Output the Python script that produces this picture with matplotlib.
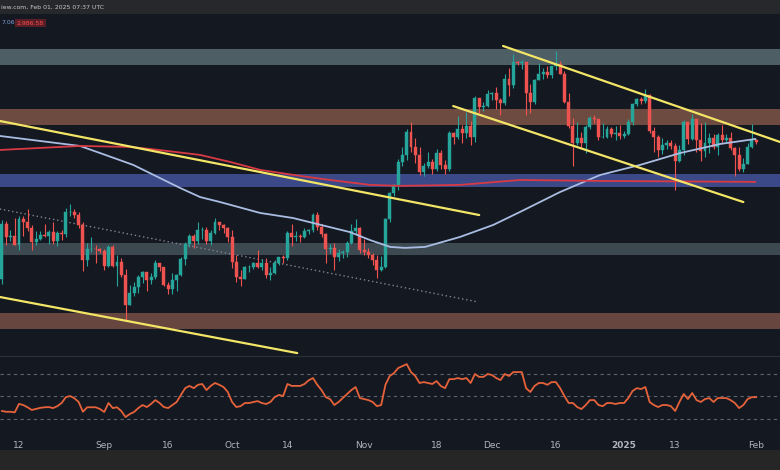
import matplotlib
matplotlib.use('Agg')
import matplotlib.pyplot as plt
from matplotlib.patches import Rectangle
import numpy as np

# ── Data: ETH/USDT daily, day 0 = 2024-08-12, first candle Aug 8 (day -4) ──
first_open = 2345
closes = [2685, 2600, 2610, 2555,
          2720, 2700, 2660, 2570, 2590, 2615, 2610,
          2635, 2575, 2630, 2620, 2765, 2765, 2745,
          2680, 2460, 2530, 2530, 2525, 2515, 2425,
          2540, 2425, 2450, 2370, 2200, 2270, 2300,
          2360, 2390, 2340, 2360, 2440, 2420, 2315,
          2290, 2340, 2370, 2465, 2560, 2610, 2580,
          2645, 2650, 2580, 2630, 2700, 2680, 2660,
          2600, 2450, 2360, 2350, 2415, 2415, 2440,
          2420, 2440, 2370, 2385, 2440, 2475, 2470,
          2630, 2605, 2610, 2605, 2640, 2645, 2745,
          2670, 2625, 2525, 2535, 2475, 2505, 2510,
          2565, 2640, 2660, 2520, 2510, 2490, 2460,
          2400, 2420, 2720, 2900, 2960, 3130, 3180,
          3370, 3245, 3185, 3050, 3100, 3130, 3075,
          3200, 3105, 3075, 3360, 3330, 3395, 3360,
          3420, 3325, 3660, 3580, 3590, 3700, 3710,
          3645, 3615, 3835, 3785, 4000, 3995, 4005,
          3710, 3630, 3830, 3880, 3905, 3870, 3960,
          3985, 3880, 3625, 3420, 3280, 3320, 3280,
          3410, 3490, 3480, 3330, 3330, 3395, 3350,
          3360, 3335, 3355, 3450, 3610, 3655, 3635,
          3685, 3380, 3325, 3220, 3265, 3280, 3255,
          3140, 3225, 3450, 3310, 3475, 3305, 3215,
          3280, 3320, 3245, 3340, 3305, 3320, 3235,
          3180, 3075, 3115, 3250, 3300, 3285]
highs = [2715, 2705, 2645, 2725,
         2740, 2740, 2785, 2680, 2640, 2640, 2690,
         2645, 2700, 2640, 2645, 2795, 2820, 2790,
         2765, 2700, 2565, 2600, 2550, 2535, 2530,
         2550, 2555, 2490, 2470, 2405, 2315, 2330,
         2370, 2395, 2390, 2385, 2460, 2440, 2420,
         2330, 2385, 2375, 2475, 2570, 2620, 2620,
         2700, 2670, 2670, 2650, 2725, 2700, 2685,
         2665, 2650, 2490, 2400, 2425, 2430, 2450,
         2520, 2465, 2470, 2420, 2460, 2480, 2490,
         2640, 2690, 2640, 2625, 2660, 2655, 2760,
         2770, 2685, 2630, 2560, 2565, 2530, 2520,
         2580, 2685, 2720, 2670, 2590, 2535, 2500,
         2490, 2485, 2730, 2910, 2965, 3150, 3250,
         3390, 3450, 3320, 3245, 3120, 3210, 3150,
         3230, 3220, 3145, 3375, 3370, 3500, 3430,
         3535, 3460, 3680, 3660, 3625, 3730, 3720,
         3760, 3660, 3880, 3940, 4080, 4015, 4025,
         4000, 3790, 3840, 3990, 3940, 3960, 3960,
         4110, 4010, 3910, 3710, 3490, 3450, 3370,
         3430, 3500, 3515, 3480, 3440, 3420, 3410,
         3420, 3430, 3375, 3480, 3620, 3660, 3670,
         3745, 3700, 3410, 3340, 3320, 3300, 3300,
         3280, 3260, 3470, 3450, 3520, 3480, 3440,
         3450, 3360, 3350, 3360, 3430, 3350, 3370,
         3250, 3250, 3160, 3280, 3435, 3310]
lows = [2320, 2555, 2580, 2550,
        2520, 2610, 2640, 2520, 2555, 2585, 2605,
        2560, 2560, 2545, 2585, 2605, 2740, 2730,
        2660, 2395, 2425, 2510, 2440, 2500, 2400,
        2420, 2420, 2310, 2360, 2120, 2200, 2250,
        2270, 2325, 2280, 2320, 2345, 2395, 2305,
        2260, 2265, 2280, 2365, 2430, 2540, 2535,
        2560, 2590, 2560, 2555, 2620, 2645, 2630,
        2570, 2410, 2330, 2310, 2345, 2390, 2405,
        2410, 2400, 2355, 2340, 2375, 2430, 2440,
        2460, 2545, 2580, 2570, 2595, 2625, 2635,
        2650, 2600, 2440, 2500, 2400, 2455, 2470,
        2475, 2560, 2620, 2505, 2490, 2470, 2430,
        2355, 2395, 2410, 2700, 2880, 2920, 3100,
        3145, 3210, 3120, 3030, 3020, 3080, 3040,
        3060, 3075, 3040, 3060, 3270, 3310, 3280,
        3320, 3260, 3290, 3530, 3550, 3580, 3640,
        3560, 3510, 3600, 3680, 3750, 3970, 3930,
        3515, 3530, 3610, 3830, 3835, 3850, 3850,
        3925, 3880, 3620, 3400, 3100, 3260, 3240,
        3200, 3390, 3440, 3300, 3320, 3320, 3330,
        3300, 3310, 3320, 3340, 3430, 3590, 3610,
        3620, 3360, 3210, 3170, 3190, 3230, 3230,
        2920, 3130, 3180, 3270, 3300, 3210, 3140,
        3170, 3200, 3230, 3180, 3280, 3290, 3220,
        3020, 3060, 3050, 3110, 3240, 3270]
rsi = [36.7, 36, 36, 35.5,
       43, 42, 40, 37.6, 38.5, 39.5, 40,
       40.2, 39.3, 41, 43.8, 49, 50, 48,
       44.7, 36, 40, 40, 40, 38.5, 35.8,
       43.8, 39.3, 40, 36.7, 31.3, 34, 35.8,
       39.3, 42, 40.2, 43, 46.4, 43.8, 40.2,
       39.3, 42, 44.7, 51, 57, 59, 57,
       60, 60.7, 55.3, 59, 61.6, 60, 58,
       53.6, 44.7, 40.2, 41, 43.8, 43.8, 44.7,
       45.5, 43.8, 42.9, 44.7, 49, 51, 50,
       60.7, 59, 59, 59, 60.7, 64, 66,
       60, 55.3, 49, 47.3, 42, 44.7, 48.2,
       51.8, 55.3, 58, 48.2, 47.3, 46.4, 44.7,
       41, 42, 60, 67.8, 70.4, 74.9, 76.7,
       78.4, 71.3, 67.8, 61.6, 62.4, 61.6, 60.7,
       63.3, 58.9, 57, 65, 65, 66, 65,
       66, 61.6, 69.6, 67, 67, 69.6, 68.7,
       66, 64.2, 69.6, 67.8, 71.3, 71.3, 71.3,
       57, 53.6, 59, 61.6, 61.6, 60, 62.4,
       62.4, 57, 50, 43.8, 43.8, 40.2, 38.4,
       42, 46.4, 46.4, 42, 41, 43.8, 43.8,
       42.9, 43.8, 43.8, 48.2, 54.5, 57, 56.2,
       58, 44.7, 42, 40.2, 42, 42, 41,
       36.7, 44.7, 51.8, 47.3, 52.7, 46.4, 44.7,
       47.3, 48.2, 44.7, 48.2, 48.2, 48.2, 46.4,
       43.8, 39.3, 42, 47.3, 49, 49]

# moving averages (blue = 100 MA, red = 200 MA)
ma100_days = [-4.5, 14.3, 19.0, 26.8, 37.8, 42.5, 47.2, 56.6, 64.3, 77.7, 82.4,
              87.1, 90.6, 95.3, 103.5, 111.3, 117.6, 127.0, 136.4, 145.8, 155.2, 164.6, 172.8]
ma100_vals = [3336, 3255, 3199, 3107, 2936, 2871, 2836, 2761, 2727, 2634, 2583,
              2540, 2534, 2540, 2603, 2681, 2768, 2907, 3031, 3107, 3199, 3271, 3311]
ma200_days = [-4.5, 14.3, 26.1, 30.8, 42.5, 49.5, 56.6, 66.0, 73.0, 82.4, 89.4,
              103.5, 117.6, 136.4, 172.8]
ma200_vals = [3223, 3255, 3247, 3231, 3184, 3130, 3069, 3024, 2994, 2958, 2951,
              2958, 2994, 2987, 2980]

# support / resistance zones (low, high)
zone_lows = [3972, 3429, 2942, 2493, 2076]
zone_highs = [4130, 3566, 3038, 2562, 2160]
zone_colors = ['#4e5e65', '#6d4b41', '#3b4988', '#3d4951', '#66463e']

# trendlines (day, price) pairs
yellow_lines = [((-4.5, 3461), (108.0, 2747)),
                ((-4.5, 2246), (65.3, 1957)),
                ((113.6, 4161), (178.6, 3287)),
                ((101.9, 3590), (170.0, 2836))]
dotted_line = ((-4.5, 2788), (107.7, 2219))

tick_days = [0, 20, 35, 50, 63, 81, 98, 111, 126, 142, 154, 173]
tick_labels = ['12', 'Sep', '16', 'Oct', '14', 'Nov', '18', 'Dec', '16', '2025', '13', 'Feb']

# ── Figure ───────────────────────────────────────────────────
BG = '#141821'
W, H = 780, 470
fig = plt.figure(figsize=(7.8, 4.7), dpi=100, facecolor=BG)

ax = fig.add_axes([0, 1 - 356 / H, 1, (356 - 14) / H], facecolor=BG)
ax_r = fig.add_axes([0, 1 - 430 / H, 1, (430 - 356) / H], facecolor=BG, sharex=ax)

days = np.arange(-4, 174)
c = np.array(closes, float)
o = np.array([first_open] + closes[:-1], float)
hi = np.array(highs, float)
lo = np.array(lows, float)
col = np.where(c >= o, '#26a69a', '#ef5350')

for zl, zh, zc in zip(zone_lows, zone_highs, zone_colors):
    ax.axhspan(zl, zh, color=zc, lw=0, zorder=1)

ax.vlines(days, lo, hi, colors=col, lw=0.8, zorder=3)
ax.bar(days, np.abs(c - o), bottom=np.minimum(o, c), width=0.7, color=col,
       edgecolor=col, linewidth=0.3, zorder=3)

ax.plot(ma100_days, ma100_vals, color='#a9bde3', lw=1.3, zorder=4)
ax.plot(ma200_days, ma200_vals, color='#d83a44', lw=1.3, zorder=4)

for (d0, p0), (d1, p1) in yellow_lines:
    ax.plot([d0, d1], [p0, p1], color='#f3e566', lw=1.6, zorder=5, solid_capstyle='round')
(d0, p0), (d1, p1) = dotted_line
ax.plot([d0, d1], [p0, p1], color='#80858f', lw=1.0, ls=(0, (1, 2)), zorder=2)

ax.set_yscale('log')
ax.set_ylim(1943, 4501)
ax.set_xlim(-4.46, 178.6)
ax.axis('off')

# RSI panel
ax_r.plot(days, rsi, color='#e5623a', lw=1.3, zorder=3)
for lvl in (70, 50, 30):
    ax_r.axhline(lvl, color='#5d6270', lw=0.8, ls=(0, (3, 3)), zorder=1)
ax_r.set_ylim(19.8, 85.6)
ax_r.set_xticks(tick_days)
ax_r.set_xticklabels(tick_labels)
for lab in ax_r.get_xticklabels():
    lab.set_color('#b2b5be')
    lab.set_fontsize(6.5)
    if lab.get_text() == '2025':
        lab.set_fontweight('bold')
ax_r.tick_params(axis='x', length=0, pad=8)
ax_r.tick_params(axis='y', left=False, labelleft=False)
ax_r.tick_params(axis='x', bottom=False)
for s in ax_r.spines.values():
    s.set_visible(False)
ax_r.spines['top'].set_visible(True)
ax_r.spines['top'].set_color('#2c303b')
ax_r.spines['top'].set_linewidth(0.8)

# header strip and bottom bar
fig.patches.append(Rectangle((0, 1 - 14 / H), 1, 14 / H, transform=fig.transFigure,
                             facecolor='#27282c', edgecolor='none', zorder=0))
fig.patches.append(Rectangle((0, 0), 1, 20 / H, transform=fig.transFigure,
                             facecolor='#262626', edgecolor='none', zorder=0))

fig.text(1 / W, 1 - 7.5 / H, 'iew.com, Feb 01, 2025 07:37 UTC', ha='left', va='center',
         fontsize=4.4, color='#c9c9c9')
fig.text(1 / W, 1 - 23 / H, '7.06', ha='left', va='center', fontsize=4.4, color='#7fa0dc')
fig.text(17 / W, 1 - 23 / H, '2,986.58', ha='left', va='center', fontsize=4.4, color='#ff4d4d',
         bbox=dict(boxstyle='square,pad=0.3', facecolor='#5a1f26', edgecolor='none'))

fig.savefig('out.png', dpi=100, facecolor=BG)
